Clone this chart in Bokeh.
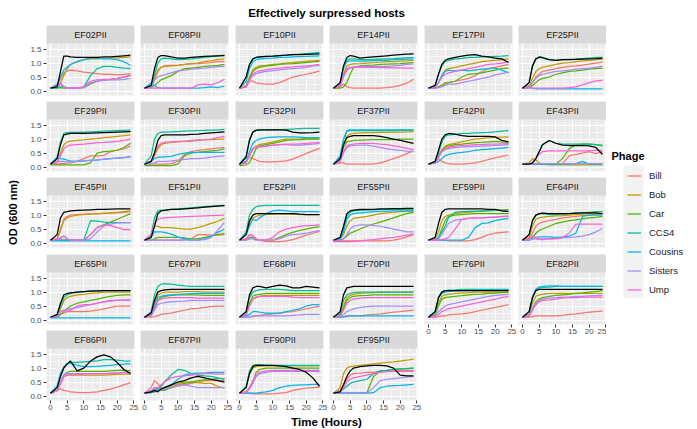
from math import pi
from bokeh.plotting import figure
from bokeh.layouts import row, column
from bokeh.models import (Range1d, FixedTicker, PrintfTickFormatter, BoxAnnotation,
                          Label, Legend, LegendItem, Grid)
from bokeh.embed import file_html
from bokeh.resources import INLINE

FONT = "Liberation Sans"

T = [0, 2, 3, 4, 5, 6, 8, 10, 12, 14, 16, 18, 20, 22, 24]

HOSTS = ["EF02PII", "EF08PII", "EF10PII", "EF14PII", "EF17PII", "EF25PII",
         "EF29PII", "EF30PII", "EF32PII", "EF37PII", "EF42PII", "EF43PII",
         "EF45PII", "EF51PII", "EF52PII", "EF55PII", "EF59PII", "EF64PII",
         "EF65PII", "EF67PII", "EF68PII", "EF70PII", "EF76PII", "EF82PII",
         "EF86PII", "EF87PII", "EF90PII", "EF95PII"]

PHAGES = ["Bill", "Bob", "Car", "CCS4", "Cousins", "Sisters", "Ump"]
COLORS = ["#F8766D", "#C49A00", "#53B400", "#00C094", "#00B6EB", "#A58AFF", "#FB61D7"]

BILL = [
    [.1, .2, .45, .65, .72, .75, .72, .68, .65, .62, .6, .6, .58, .6, .62],
    [.1, .15, .4, .7, .85, .9, .92, .92, .95, .97, .98, 1.0, 1.02, 1.05, 1.05],
    [.1, .15, .35, .35, .3, .27, .25, .25, .3, .4, .5, .55, .6, .65, .72],
    [.1, .15, .25, .15, .12, .1, .1, .1, .1, .1, .12, .15, .2, .28, .42],
    [.1, .1, .15, .2, .25, .3, .35, .4, .45, .55, .7, .8, .85, .9, .95],
    [.1, .15, .3, .5, .6, .7, .75, .8, .85, .88, .9, .93, .96, 1.0, 1.03],
    [.1, .1, .12, .12, .15, .15, .2, .3, .4, .4, .42, .55, .6, .65, .75],
    [.1, .1, .1, .1, .1, .1, .12, .2, .45, .55, .6, .62, .65, .68, .7],
    [.1, .2, .36, .3, .25, .2, .18, .18, .2, .22, .28, .38, .48, .58, .67],
    [.1, .15, .15, .1, .1, .1, .1, .1, .1, .15, .22, .3, .38, .48, .58],
    [.1, .2, .3, .2, .15, .12, .1, .1, .12, .15, .2, .27, .33, .38, .43],
    [.1, .1, .1, .1, .1, .1, .1, .1, .12, .4, .45, .5, .55, .48, .55],
    [.1, .15, .5, .85, .95, 1.0, 1.02, 1.03, 1.04, 1.05, 1.06, 1.07, 1.08, 1.1, 1.12],
    [.1, .1, .1, .1, .1, .1, .1, .1, .12, .15, .3, .3, .28, .28, .3],
    [.1, .15, .3, .25, .15, .1, .05, .05, .05, .08, .12, .2, .28, .35, .42],
    [.08, .08, .08, .08, .08, .08, .08, .08, .08, .08, .08, .1, .15, .22, .3],
    [.1, .1, .1, .1, .1, .08, .08, .08, .08, .12, .2, .3, .35, .38, .4],
    [.1, .15, .35, .6, .7, .75, .8, .85, .9, .93, .95, .98, 1.0, 1.02, 1.05],
    [.1, .12, .2, .25, .3, .3, .3, .3, .32, .35, .4, .45, .5, .5, .5],
    [.1, .1, .12, .15, .2, .22, .25, .3, .35, .4, .42, .45, .48, .5, .5],
    [.1, .1, .1, .12, .15, .17, .2, .22, .25, .28, .3, .35, .4, .45, .5],
    [.1, .1, .1, .12, .15, .15, .15, .18, .2, .22, .25, .28, .3, .33, .35],
    [.1, .1, .12, .15, .15, .18, .2, .22, .25, .3, .35, .4, .45, .5, .55],
    [.1, .1, .12, .15, .15, .15, .15, .15, .17, .2, .22, .25, .28, .3, .32],
    [.1, .2, .25, .2, .18, .15, .13, .12, .13, .15, .2, .25, .32, .4, .48],
    [.1, .3, .55, .45, .3, .25, .3, .35, .4, .45, .5, .55, .55, .55, .55],
    [.1, .1, .1, .08, .08, .08, .08, .08, .1, .12, .2, .25, .28, .3, .32],
    [.1, .2, .4, .6, .75, .8, .82, .85, .85, .88, .9, .9, .92, .92, .92],
]

BOB = [
    [.1, .15, .3, .55, .8, .95, 1.05, 1.12, 1.15, 1.15, 1.17, 1.18, 1.19, 1.2, 1.22],
    [.1, .15, .5, .75, .85, .88, .9, .92, .95, .98, 1.0, 1.05, 1.08, 1.12, 1.15],
    [.1, .2, .5, .75, .85, .9, .92, .95, .97, 1.0, 1.02, 1.04, 1.06, 1.08, 1.1],
    [.1, .2, .6, .9, .95, .97, .98, 1.0, 1.02, 1.03, 1.05, 1.05, 1.07, 1.08, 1.1],
    [.1, .15, .3, .55, .75, .8, .85, .9, .95, 1.0, 1.05, 1.08, 1.1, 1.12, 1.15],
    [.1, .2, .45, .7, .8, .85, .9, .95, 1.0, 1.02, 1.05, 1.08, 1.1, 1.12, 1.14],
    [.1, .2, .5, .8, .9, .93, .95, .97, 1.0, 1.02, 1.05, 1.07, 1.1, 1.12, 1.15],
    [.1, .2, .4, .65, .8, .85, .88, .9, .92, .93, .95, .97, .98, 1.0, 1.0],
    [.1, .2, .4, .65, .75, .8, .85, .9, .95, 1.0, 1.0, 1.0, 1.02, 1.02, 1.02],
    [.1, .3, .8, 1.1, 1.18, 1.2, 1.22, 1.23, 1.23, 1.24, 1.24, 1.25, 1.25, 1.26, 1.27],
    [.1, .15, .35, .6, .75, .8, .85, .9, .95, 1.0, 1.02, 1.05, 1.06, 1.07, 1.08],
    [.1, .15, .3, .25, .15, .1, .08, .08, .08, .08, .08, .08, .08, .08, .08],
    [.1, .15, .45, .8, .9, .95, 1.0, 1.02, 1.03, 1.04, 1.06, 1.08, 1.1, 1.12, 1.15],
    [.1, .3, .6, .6, .55, .55, .55, .52, .5, .5, .55, .62, .7, .78, .88],
    [.1, .3, .7, .9, .95, 1.0, 1.02, 1.03, 1.04, 1.03, 1.03, 1.02, 1.02, 1.02, 1.02],
    [.1, .15, .3, .6, .8, .88, .92, .95, 1.0, 1.05, 1.08, 1.1, 1.12, 1.13, 1.14],
    [.1, .15, .4, .8, .95, 1.0, 1.05, 1.08, 1.1, 1.12, 1.13, 1.15, 1.17, 1.18, 1.2],
    [.1, .2, .6, .85, .9, .93, .95, .97, .98, 1.0, 1.02, 1.03, 1.05, 1.05, 1.05],
    [.1, .15, .4, .7, .8, .85, .9, .92, .95, .97, 1.0, 1.0, 1.0, 1.0, 1.0],
    [.1, .2, .6, .9, .95, 1.0, 1.0, 1.0, 1.02, 1.02, 1.02, 1.0, 1.0, 1.0, 1.0],
    [.1, .2, .5, .75, .8, .85, .88, .88, .88, .88, .88, .88, .88, .88, .88],
    [.1, .2, .5, .8, .88, .92, .95, .97, .98, 1.0, 1.0, 1.0, 1.0, 1.0, 1.0],
    [.1, .2, .6, .85, .9, .92, .95, .97, .98, 1.0, 1.0, 1.0, 1.0, 1.0, 1.0],
    [.1, .2, .6, .85, .9, .92, .95, .95, .95, .95, .95, .95, .95, .95, .95],
    [.1, .2, .45, .7, .75, .75, .75, .75, .75, .75, .75, .76, .77, .78, .78],
    [.1, .12, .15, .2, .25, .3, .35, .45, .5, .5, .48, .45, .45, .35, .28],
    [.1, .3, .8, 1.0, 1.05, 1.07, 1.08, 1.08, 1.08, 1.08, 1.08, 1.08, 1.08, 1.08, 1.08],
    [.1, .3, .8, 1.0, 1.05, 1.07, 1.1, 1.12, 1.15, 1.18, 1.2, 1.22, 1.25, 1.28, 1.32],
]

CAR = [
    [.1, .1, .12, .1, .1, .1, .1, .12, .25, .35, .4, .42, .45, .5, .55],
    [.1, .12, .2, .3, .4, .45, .55, .7, .8, .82, .85, .88, .9, .92, .95],
    [.1, .15, .45, .7, .8, .85, .9, .92, .95, .97, .98, 1.0, 1.02, 1.04, 1.06],
    [.1, .1, .15, .3, .6, .85, .9, .92, .93, .95, .96, .97, .98, 1.0, 1.02],
    [.1, .1, .15, .2, .3, .3, .35, .5, .6, .62, .65, .7, .75, .8, .82],
    [.1, .12, .2, .3, .4, .45, .5, .6, .65, .7, .72, .75, .78, .8, .82],
    [.08, .08, .08, .08, .08, .08, .08, .08, .15, .5, .55, .57, .6, .7, .85],
    [.05, .05, .05, .05, .05, .05, .05, .1, .4, .5, .52, .55, .58, .6, .65],
    [.05, .08, .15, .4, .65, .75, .8, .85, .9, .95, .97, .98, 1.0, 1.0, 1.0],
    [.1, .25, .7, .9, .93, .95, .96, .97, .98, .98, .98, .98, 1.0, 1.0, 1.0],
    [.1, .15, .4, .6, .7, .75, .8, .82, .85, .87, .88, .9, .92, .9, .88],
    [.1, .1, .1, .1, .1, .1, .1, .1, .3, .65, .8, .82, .82, .8, .78],
    [.1, .1, .1, .1, .1, .1, .1, .1, .3, .55, .65, .75, .85, .95, 1.05],
    [.1, .1, .15, .2, .2, .2, .2, .2, .18, .15, .15, .2, .25, .3, .35],
    [.1, .1, .2, .2, .12, .1, .1, .1, .2, .3, .38, .45, .5, .55, .58],
    [.1, .1, .15, .25, .35, .4, .5, .6, .68, .75, .82, .9, .98, 1.05, 1.1],
    [.1, .1, .2, .5, .8, .95, 1.0, 1.02, 1.03, 1.05, 1.05, 1.05, 1.05, 1.05, 1.05],
    [.1, .1, .2, .35, .45, .5, .6, .7, .75, .8, .83, .86, .9, .92, .95],
    [.1, .1, .2, .3, .4, .5, .6, .65, .7, .75, .8, .85, .88, .9, .9],
    [.1, .15, .4, .7, .8, .85, .88, .9, .9, .9, .9, .88, .88, .88, .88],
    [.1, .2, .6, .85, .9, .92, .95, .95, .95, .95, .95, .95, .95, .95, .95],
    [.1, .15, .4, .7, .8, .85, .87, .88, .9, .9, .9, .9, .9, .9, .9],
    [.1, .2, .5, .75, .8, .82, .85, .87, .9, .92, .93, .95, .96, .98, 1.0],
    [.1, .15, .4, .65, .75, .8, .85, .88, .9, .92, .95, .97, 1.0, 1.02, 1.05],
    [.1, .2, .5, .75, .85, .88, .88, .88, .88, .88, .88, .9, .92, .93, .9],
    [.1, .15, .3, .25, .2, .2, .3, .4, .45, .5, .55, .58, .6, .62, .62],
    [.1, .15, .3, .5, .85, .95, 1.0, 1.0, 1.0, 1.0, 1.0, 1.0, 1.0, 1.0, 1.0],
    [.1, .1, .1, .1, .1, .1, .1, .12, .7, .9, .92, .95, .97, .98, 1.0],
]

CCS4 = [
    [.1, .12, .15, .15, .12, .1, .1, .15, .55, .8, .88, .88, .85, .82, .8],
    [.1, .15, .6, 1.0, 1.15, 1.18, 1.15, 1.12, 1.13, 1.15, 1.18, 1.2, 1.23, 1.26, 1.28],
    [.1, .5, .95, 1.15, 1.2, 1.22, 1.24, 1.25, 1.27, 1.28, 1.3, 1.32, 1.34, 1.36, 1.38],
    [.1, .25, .8, 1.1, 1.15, 1.15, 1.12, 1.12, 1.13, 1.14, 1.15, 1.16, 1.18, 1.19, 1.2],
    [.1, .2, .6, .9, 1.05, 1.1, 1.15, 1.17, 1.2, 1.2, 1.22, 1.22, 1.24, 1.25, 1.27],
    [.1, .3, .9, 1.15, 1.2, 1.18, 1.12, 1.1, 1.12, 1.13, 1.14, 1.16, 1.18, 1.2, 1.2],
    [.1, .35, .9, 1.2, 1.23, 1.24, 1.24, 1.25, 1.26, 1.27, 1.28, 1.29, 1.3, 1.31, 1.32],
    [.1, .4, 1.0, 1.2, 1.25, 1.25, 1.26, 1.27, 1.28, 1.29, 1.3, 1.31, 1.32, 1.33, 1.35],
    [.1, .4, 1.0, 1.25, 1.3, 1.32, 1.33, 1.33, 1.34, 1.35, 1.36, 1.37, 1.38, 1.38, 1.38],
    [.1, .35, .95, 1.28, 1.3, 1.3, 1.3, 1.3, 1.3, 1.3, 1.3, 1.3, 1.31, 1.32, 1.32],
    [.1, .2, .5, .9, 1.1, 1.15, 1.17, 1.2, 1.2, 1.22, 1.23, 1.24, 1.26, 1.28, 1.3],
    [.1, .1, .15, .3, .55, .8, .95, .85, .82, .82, .82, .82, .82, .8, .75],
    [.1, .1, .1, .1, .1, .1, .1, .12, .8, .78, .75, .73, .73, .73, .73],
    [.1, .3, .9, 1.15, 1.18, 1.18, 1.2, 1.22, 1.24, 1.26, 1.28, 1.3, 1.32, 1.34, 1.35],
    [.1, .4, 1.0, 1.2, 1.3, 1.33, 1.35, 1.35, 1.35, 1.35, 1.35, 1.35, 1.35, 1.35, 1.35],
    [.1, .15, .5, .95, 1.1, 1.15, 1.17, 1.18, 1.19, 1.2, 1.2, 1.2, 1.2, 1.2, 1.2],
    [.1, .1, .2, .4, .6, .9, 1.1, 1.12, 1.13, 1.14, 1.15, 1.16, 1.17, 1.18, 1.18],
    [.1, .3, .8, 1.0, 1.03, 1.05, 1.02, 1.02, 1.03, 1.05, 1.07, 1.08, 1.1, 1.12, 1.12],
    [.1, .15, .5, .8, .9, .95, 1.0, 1.02, 1.03, 1.04, 1.05, 1.05, 1.05, 1.05, 1.05],
    [.1, .3, .9, 1.2, 1.28, 1.3, 1.28, 1.25, 1.22, 1.2, 1.2, 1.2, 1.2, 1.2, 1.2],
    [.1, .3, .8, 1.0, 1.05, 1.08, 1.1, 1.1, 1.1, 1.08, 1.05, 1.05, 1.05, 1.05, 1.05],
    [.1, .25, .7, .9, .95, .98, 1.0, 1.0, 1.0, 1.0, 1.0, 1.0, 1.0, 1.0, 1.0],
    [.1, .3, .8, 1.0, 1.05, 1.07, 1.08, 1.1, 1.1, 1.1, 1.1, 1.1, 1.1, 1.1, 1.1],
    [.1, .3, .8, 1.1, 1.15, 1.17, 1.18, 1.2, 1.2, 1.2, 1.2, 1.2, 1.2, 1.2, 1.2],
    [.1, .35, .8, 1.05, 1.15, 1.2, 1.2, 1.22, 1.24, 1.26, 1.3, 1.3, 1.28, 1.26, 1.25],
    [.1, .15, .2, .25, .35, .5, .75, .95, .92, .8, .75, .72, .7, .65, .6],
    [.1, .35, .9, 1.1, 1.12, 1.12, 1.1, 1.1, 1.1, 1.1, 1.1, 1.1, 1.1, 1.1, 1.1],
    [.1, .15, .25, .35, .45, .5, .55, .6, .8, .9, .92, .95, .97, .98, 1.0],
]

COUSINS = [
    [.1, .25, .5, .75, .85, .95, 1.05, 1.12, 1.18, 1.18, 1.15, 1.15, 1.12, 1.05, .92],
    [.1, .3, .2, .12, .1, .1, .1, .1, .1, .1, .1, .12, .15, .12, .18],
    [.1, .35, .8, 1.05, 1.12, 1.15, 1.17, 1.18, 1.2, 1.2, 1.22, 1.23, 1.24, 1.25, 1.26],
    [.1, .3, .85, 1.05, 1.08, 1.08, 1.07, 1.08, 1.09, 1.1, 1.1, 1.12, 1.12, 1.14, 1.15],
    [.1, .15, .3, .55, .7, .75, .72, .75, .72, .75, .78, .8, .82, .75, .65],
    [.1, .12, .1, .08, .08, .08, .08, .08, .08, .08, .08, .08, .08, .08, .08],
    [.1, .35, .3, .28, .25, .22, .2, .22, .24, .25, .27, .3, .32, .34, .37],
    [.1, .2, .3, .35, .35, .36, .38, .45, .5, .52, .52, .52, .52, .52, .52],
    [.1, .2, .55, .85, .95, 1.0, 1.05, 1.07, 1.08, 1.08, 1.08, 1.07, 1.05, 1.05, 1.05],
    [.1, .4, 1.0, 1.3, 1.33, 1.33, 1.33, 1.33, 1.33, 1.33, 1.33, 1.33, 1.33, 1.33, 1.33],
    [.1, .15, .2, .3, .4, .45, .5, .52, .55, .6, .62, .64, .66, .68, .7],
    [.1, .1, .1, .1, .1, .1, .1, .1, .1, .1, .12, .2, .1, .1, .1],
    [.08, .08, .08, .08, .08, .08, .08, .08, .08, .08, .08, .08, .08, .08, .08],
    [.1, .2, .4, .4, .4, .38, .32, .22, .15, .1, .1, .15, .25, .38, .5],
    [.1, .3, .6, .85, .8, .9, 1.05, 1.15, 1.18, 1.15, 1.12, 1.12, 1.12, 1.12, 1.12],
    [.1, .15, .4, .85, 1.0, 1.05, 1.08, 1.1, 1.12, 1.13, 1.14, 1.15, 1.15, 1.15, 1.15],
    [.1, .1, .1, .1, .1, .1, .1, .1, .2, .55, .7, .72, .8, .85, .88],
    [.1, .1, .15, .2, .22, .22, .22, .2, .22, .25, .35, .95, 1.0, 1.0, 1.0],
    [.08, .08, .08, .08, .08, .08, .08, .08, .08, .08, .08, .08, .08, .08, .08],
    [.1, .2, .5, .8, .85, .88, .9, .92, .93, .94, .95, .95, .95, .95, .95],
    [.1, .15, .2, .3, .3, .28, .25, .25, .25, .3, .35, .4, .5, .55, .55],
    [.1, .1, .12, .15, .15, .15, .15, .15, .15, .15, .15, .15, .15, .15, .15],
    [.1, .3, .8, .95, 1.0, 1.02, 1.04, 1.05, 1.06, 1.07, 1.08, 1.08, 1.08, 1.08, 1.08],
    [.1, .3, .85, 1.1, 1.18, 1.2, 1.22, 1.22, 1.2, 1.2, 1.2, 1.2, 1.2, 1.2, 1.2],
    [.1, .35, .8, 1.05, 1.15, 1.18, 1.1, 1.05, 1.05, 1.06, 1.08, 1.1, 1.12, 1.14, 1.15],
    [.1, .12, .15, .2, .25, .3, .4, .6, .75, .8, .82, .82, .85, .85, .85],
    [.1, .1, .1, .1, .1, .12, .15, .2, .3, .35, .38, .4, .4, .42, .42],
    [.1, .1, .1, .1, .1, .1, .1, .1, .12, .3, .35, .37, .38, .4, .42],
]

SISTERS = [
    [.1, .15, .3, .15, .1, .1, .1, .12, .3, .35, .38, .4, .4, .42, .45],
    [.1, .15, .4, .5, .55, .58, .65, .72, .75, .78, .8, .82, .85, .87, .88],
    [.1, .15, .4, .55, .62, .66, .7, .73, .76, .78, .8, .82, .85, .9, .92],
    [.1, .2, .5, .75, .82, .85, .88, .88, .88, .88, .88, .9, .92, .95, .97],
    [.1, .1, .12, .15, .2, .25, .25, .3, .35, .4, .45, .5, .58, .62, .68],
    [.1, .15, .3, .45, .55, .6, .65, .7, .72, .75, .78, .8, .82, .85, .88],
    [.1, .2, .2, .2, .18, .18, .2, .22, .24, .26, .28, .3, .32, .34, .35],
    [.1, .12, .15, .2, .2, .2, .22, .25, .27, .3, .3, .32, .35, .38, .4],
    [.1, .15, .45, .65, .7, .72, .75, .78, .8, .8, .78, .78, .8, .82, .85],
    [.1, .2, .5, .7, .75, .77, .78, .78, .75, .7, .65, .62, .6, .57, .55],
    [.1, .15, .35, .55, .62, .66, .7, .72, .73, .74, .75, .76, .77, .78, .8],
    [.1, .1, .1, .12, .12, .12, .12, .12, .12, .12, .12, .12, .12, .12, .12],
    [.1, .12, .2, .25, .15, .1, .1, .1, .15, .4, .6, .68, .72, .73, .73],
    [.1, .1, .1, .1, .1, .1, .1, .1, .1, .1, .1, .12, .2, .45, .75],
    [.1, .1, .15, .15, .1, .1, .1, .1, .15, .25, .3, .32, .35, .4, .45],
    [.1, .1, .15, .3, .5, .6, .65, .65, .63, .6, .55, .5, .45, .4, .4],
    [.1, .1, .15, .3, .5, .7, .82, .85, .88, .9, .9, .92, .93, .94, .95],
    [.1, .1, .15, .15, .12, .12, .15, .17, .18, .2, .22, .25, .3, .4, .52],
    [.1, .12, .3, .35, .35, .4, .45, .5, .55, .6, .65, .68, .7, .7, .7],
    [.1, .15, .35, .55, .6, .62, .65, .67, .68, .7, .7, .7, .7, .7, .7],
    [.1, .1, .12, .15, .15, .15, .15, .15, .15, .15, .17, .18, .2, .2, .2],
    [.1, .12, .2, .3, .35, .4, .45, .48, .5, .5, .5, .5, .5, .5, .5],
    [.1, .15, .3, .4, .5, .55, .6, .65, .7, .75, .8, .85, .88, .9, .92],
    [.1, .15, .4, .6, .7, .75, .78, .8, .82, .83, .85, .85, .86, .87, .88],
    [.1, .2, .5, .75, .8, .8, .8, .8, .8, .8, .8, .82, .83, .84, .85],
    [.1, .2, .3, .3, .25, .25, .3, .4, .4, .35, .3, .3, .3, .3, .3],
    [.1, .12, .25, .45, .7, .8, .85, .88, .88, .88, .88, .88, .88, .88, .87],
    [.1, .1, .1, .1, .1, .1, .1, .1, .3, .55, .6, .62, .65, .68, .7],
]

UMP = [
    [.1, .15, .25, .15, .1, .1, .1, .15, .35, .4, .42, .42, .45, .5, .58],
    [.1, .1, .1, .1, .1, .1, .1, .1, .1, .1, .22, .25, .22, .3, .42],
    [.1, .15, .4, .6, .68, .72, .76, .8, .82, .85, .86, .88, .9, .92, .95],
    [.1, .2, .55, .8, .85, .86, .85, .85, .85, .84, .84, .83, .83, .82, .82],
    [.1, .15, .3, .5, .6, .65, .7, .75, .8, .85, .9, .95, .97, 1.0, 1.05],
    [.1, .12, .1, .1, .1, .1, .1, .1, .1, .12, .15, .22, .3, .36, .38],
    [.1, .15, .4, .65, .75, .78, .8, .82, .85, .87, .88, .9, .92, .95, 1.0],
    [.1, .2, .5, .75, .85, .88, .9, .92, .93, .95, .97, .98, 1.0, 1.05, 1.1],
    [.1, .15, .4, .65, .7, .72, .75, .78, .8, .82, .82, .83, .85, .86, .87],
    [.1, .2, .55, .75, .8, .82, .85, .85, .85, .82, .8, .76, .72, .67, .62],
    [.1, .15, .35, .55, .65, .7, .75, .77, .78, .8, .8, .82, .82, .83, .84],
    [.1, .1, .15, .3, .45, .55, .58, .58, .58, .58, .58, .58, .58, .6, .6],
    [.1, .15, .15, .25, .15, .1, .1, .1, .3, .55, .65, .62, .55, .48, .48],
    [.1, .3, .7, .85, .88, .9, .92, .93, .94, .95, .96, .97, .98, .99, 1.0],
    [.1, .15, .3, .25, .15, .1, .1, .2, .4, .5, .55, .6, .62, .63, .65],
    [.05, .05, .05, .05, .05, .06, .08, .1, .12, .15, .18, .2, .24, .28, .33],
    [.1, .1, .1, .12, .15, .2, .5, .85, .88, .9, .9, .92, .93, .95, .96],
    [.1, .15, .25, .2, .15, .15, .15, .15, .2, .35, .68, .68, .68, .68, .68],
    [.1, .15, .3, .35, .3, .35, .5, .55, .55, .6, .65, .7, .7, .72, .72],
    [.1, .2, .45, .7, .75, .78, .8, .8, .8, .8, .78, .78, .78, .78, .78],
    [.1, .2, .5, .75, .82, .85, .85, .85, .85, .85, .82, .8, .8, .8, .8],
    [.1, .15, .35, .6, .7, .75, .78, .8, .8, .8, .8, .8, .8, .8, .8],
    [.1, .1, .2, .3, .35, .4, .45, .5, .55, .6, .65, .7, .75, .8, .85],
    [.1, .15, .35, .55, .65, .7, .72, .75, .78, .8, .8, .82, .82, .82, .82],
    [.1, .2, .45, .7, .75, .76, .77, .78, .8, .8, .8, .8, .82, .85, .85],
    [.1, .15, .25, .3, .4, .5, .65, .7, .72, .75, .78, .8, .8, .78, .78],
    [.1, .15, .3, .55, .75, .85, .9, .92, .92, .92, .92, .92, .92, .92, .92],
    [.1, .15, .3, .5, .6, .65, .7, .75, .8, .85, .87, .88, .88, .88, .88],
]

CONTROL = [
    [.1, .15, .7, 1.25, 1.25, 1.22, 1.2, 1.2, 1.2, 1.2, 1.22, 1.22, 1.24, 1.26, 1.28],
    [.1, .2, .8, 1.2, 1.27, 1.27, 1.22, 1.18, 1.18, 1.2, 1.22, 1.24, 1.25, 1.26, 1.27],
    [.1, .5, .95, 1.15, 1.2, 1.22, 1.24, 1.25, 1.27, 1.28, 1.3, 1.3, 1.31, 1.32, 1.33],
    [.1, .3, .9, 1.2, 1.27, 1.25, 1.18, 1.2, 1.22, 1.24, 1.26, 1.28, 1.3, 1.32, 1.33],
    [.1, .2, .6, .95, 1.1, 1.15, 1.2, 1.25, 1.28, 1.3, 1.25, 1.22, 1.18, 1.15, 1.02],
    [.1, .3, .9, 1.15, 1.22, 1.2, 1.12, 1.1, 1.12, 1.12, 1.13, 1.14, 1.15, 1.16, 1.18],
    [.1, .3, .8, 1.15, 1.18, 1.2, 1.2, 1.2, 1.21, 1.22, 1.23, 1.24, 1.25, 1.26, 1.27],
    [.1, .2, .5, .95, 1.12, 1.15, 1.15, 1.15, 1.15, 1.17, 1.18, 1.2, 1.22, 1.24, 1.26],
    [.1, .35, .95, 1.25, 1.32, 1.33, 1.33, 1.33, 1.33, 1.32, 1.25, 1.22, 1.22, 1.23, 1.25],
    [.1, .3, .8, 1.05, 1.1, 1.12, 1.12, 1.12, 1.12, 1.1, 1.05, 1.0, .95, .9, .85],
    [.1, .2, .6, 1.0, 1.15, 1.2, 1.18, 1.12, 1.1, 1.1, 1.1, 1.1, 1.08, .95, .9],
    [.1, .1, .15, .3, .55, .8, .95, .85, .78, .77, .77, .77, .76, .7, .45],
    [.1, .3, .9, 1.1, 1.12, 1.15, 1.17, 1.18, 1.19, 1.2, 1.2, 1.21, 1.22, 1.22, 1.22],
    [.1, .2, .6, 1.05, 1.15, 1.17, 1.2, 1.2, 1.22, 1.24, 1.26, 1.28, 1.3, 1.32, 1.34],
    [.1, .3, .8, 1.0, 1.05, 1.05, 1.05, 1.05, 1.05, 1.05, 1.05, 1.03, 1.02, 1.02, 1.02],
    [.1, .2, .6, 1.05, 1.15, 1.18, 1.2, 1.2, 1.2, 1.22, 1.22, 1.23, 1.23, 1.24, 1.24],
    [.1, .2, .7, 1.1, 1.2, 1.22, 1.22, 1.22, 1.22, 1.22, 1.22, 1.2, 1.2, 1.15, 1.12],
    [.1, .3, .8, 1.0, 1.05, 1.07, 1.05, 1.05, 1.05, 1.05, 1.07, 1.08, 1.08, 1.08, 1.05],
    [.1, .2, .6, .9, .95, .97, 1.0, 1.02, 1.03, 1.04, 1.05, 1.05, 1.05, 1.05, 1.05],
    [.1, .25, .7, 1.0, 1.05, 1.08, 1.1, 1.1, 1.1, 1.1, 1.1, 1.1, 1.1, 1.1, 1.1],
    [.1, .3, .9, 1.15, 1.2, 1.2, 1.15, 1.2, 1.25, 1.22, 1.15, 1.15, 1.2, 1.18, 1.15],
    [.1, .3, .9, 1.15, 1.18, 1.2, 1.2, 1.2, 1.2, 1.2, 1.2, 1.2, 1.2, 1.2, 1.2],
    [.1, .3, .8, 1.0, 1.05, 1.05, 1.05, 1.05, 1.05, 1.05, 1.05, 1.05, 1.05, 1.05, 1.05],
    [.1, .3, .8, 1.05, 1.1, 1.1, 1.1, 1.1, 1.1, 1.1, 1.1, 1.1, 1.1, 1.1, 1.1],
    [.1, .3, .7, 1.0, 1.15, 1.25, .9, 1.0, 1.25, 1.4, 1.47, 1.4, 1.2, .95, .8],
    [.1, .15, .2, .15, .25, .3, .4, .5, .55, .65, .7, .65, .6, .55, .5],
    [.1, .3, .8, 1.05, 1.1, 1.1, 1.1, 1.1, 1.08, 1.05, 1.0, .95, .85, .65, .35],
    [.1, .15, .4, .7, .9, 1.0, 1.05, 1.08, 1.1, 1.1, 1.08, 1.0, .75, .72, .72],
]

SERIES = [BILL, BOB, CAR, CCS4, COUSINS, SISTERS, UMP]

X_TICKS = [0, 5, 10, 15, 20, 25]
X_MINOR = [2.5, 7.5, 12.5, 17.5, 22.5]
Y_TICKS = [0, 0.5, 1.0, 1.5]
Y_MINOR = [0.25, 0.75, 1.25]

X0, X1 = -1.2, 25.2
Y0, Y1 = -0.16, 1.70
STRIP_PX, PLOT_PX = 18, 52
YTOP = Y1 + (Y1 - Y0) * STRIP_PX / PLOT_PX
FRAME_W = 88
NCOL = 6
RIGHT_GAPS = [6, 7, 6, 7, 6, 0]
ROW_GAPS = [6, 6, 7, 6]
AXIS_PX = 14
LEFT_PX = 22
TITLE_H = 25
XLAB_H = 15
YLAB_W = 24
TOTAL_W = 697


def panel(i, col, r, is_bottom):
    left = LEFT_PX if col == 0 else 0
    right = RIGHT_GAPS[col]
    bottom = AXIS_PX if is_bottom else ROW_GAPS[r]
    p = figure(width=left + FRAME_W + right, height=STRIP_PX + PLOT_PX + bottom,
               x_range=Range1d(X0, X1), y_range=Range1d(Y0, YTOP),
               toolbar_location=None, output_backend="svg",
               min_border_left=left, min_border_right=right,
               min_border_top=0, min_border_bottom=bottom,
               x_axis_location="below" if is_bottom else None,
               y_axis_location="left" if col == 0 else None,
               background_fill_color="#EBEBEB", border_fill_color="white",
               outline_line_color=None)
    for g in list(p.center):
        if isinstance(g, Grid):
            g.visible = False
    p.add_layout(Grid(dimension=0, ticker=FixedTicker(ticks=X_TICKS, minor_ticks=X_MINOR),
                      grid_line_color="white", grid_line_width=1.1,
                      minor_grid_line_color="white", minor_grid_line_width=0.55))
    p.add_layout(Grid(dimension=1, ticker=FixedTicker(ticks=Y_TICKS, minor_ticks=Y_MINOR),
                      grid_line_color="white", grid_line_width=1.1,
                      minor_grid_line_color="white", minor_grid_line_width=0.55))
    for k, ser in enumerate(SERIES):
        p.line(T, ser[i], line_color=COLORS[k], line_width=1.25)
    p.line(T, CONTROL[i], line_color="black", line_width=1.25)
    p.add_layout(BoxAnnotation(bottom=Y1, fill_color="#D9D9D9", fill_alpha=1.0,
                               line_color=None))
    p.add_layout(Label(x=(X0 + X1) / 2, y=(Y1 + YTOP) / 2, text=HOSTS[i],
                       text_align="center", text_baseline="middle",
                       text_font=FONT, text_font_size="9px", text_color="#1A1A1A"))
    for ax in p.xaxis:
        ax.ticker = FixedTicker(ticks=X_TICKS)
        ax.axis_line_color = None
        ax.major_tick_in = 0
        ax.major_tick_out = 3
        ax.minor_tick_out = 0
        ax.minor_tick_in = 0
        ax.major_tick_line_color = "#333333"
        ax.major_label_standoff = 1
        ax.major_label_text_font = FONT
        ax.major_label_text_font_size = "8px"
        ax.major_label_text_color = "#4D4D4D"
    for ax in p.yaxis:
        ax.ticker = FixedTicker(ticks=Y_TICKS)
        ax.formatter = PrintfTickFormatter(format="%.1f")
        ax.axis_line_color = None
        ax.major_tick_in = 0
        ax.major_tick_out = 3
        ax.minor_tick_out = 0
        ax.minor_tick_in = 0
        ax.major_tick_line_color = "#333333"
        ax.major_label_standoff = 2
        ax.major_label_text_font = FONT
        ax.major_label_text_font_size = "8px"
        ax.major_label_text_color = "#4D4D4D"
    return p


def blank(w, h):
    p = figure(width=w, height=h, x_range=Range1d(0, w), y_range=Range1d(0, h),
               toolbar_location=None, output_backend="svg",
               min_border_left=0, min_border_right=0, min_border_top=0, min_border_bottom=0,
               x_axis_location=None, y_axis_location=None,
               background_fill_color="white", border_fill_color="white",
               outline_line_color=None)
    for g in list(p.center):
        if isinstance(g, Grid):
            g.visible = False
    return p


n = len(HOSTS)
stacks = []
for c in range(NCOL):
    rows_here = [r for r in range(5) if r * NCOL + c < n]
    figs = [panel(r * NCOL + c, c, r, r == rows_here[-1]) for r in rows_here]
    stacks.append(column(*figs))

STACK_H = 4 * (STRIP_PX + PLOT_PX) + sum(ROW_GAPS) + STRIP_PX + PLOT_PX + AXIS_PX
LEG_W = TOTAL_W - YLAB_W - (LEFT_PX + 6 * FRAME_W + sum(RIGHT_GAPS))

# y label (page y center ~212)
ylab = blank(YLAB_W, STACK_H)
ylab.add_layout(Label(x=12, y=STACK_H - (212 - TITLE_H), text="OD (600 nm)", angle=pi / 2,
                      text_align="center", text_baseline="middle",
                      text_font=FONT, text_font_style="bold", text_font_size="11px",
                      text_color="black"))

# legend
leg = blank(LEG_W, STACK_H)
leg.add_layout(BoxAnnotation(left=17, right=37, top=STACK_H - (165 - TITLE_H),
                             bottom=STACK_H - (298 - TITLE_H),
                             fill_color="#F2F2F2", fill_alpha=1.0, line_color=None,
                             level="underlay"))
items = []
for k, name in enumerate(PHAGES):
    r = leg.line(x=[float("nan")], y=[float("nan")], line_color=COLORS[k], line_width=1.3)
    items.append(LegendItem(label=name, renderers=[r]))
legend = Legend(items=items, location=(21, STACK_H - (297.5 - TITLE_H)), padding=0, margin=0,
                spacing=2, glyph_width=14, glyph_height=17, label_height=17,
                label_standoff=8, label_text_font=FONT, label_text_font_size="9.5px",
                label_text_color="#1A1A1A", border_line_color=None,
                background_fill_alpha=0.0)
leg.add_layout(legend)
leg.add_layout(Label(x=5, y=STACK_H - (155 - TITLE_H), text="Phage", text_align="left",
                     text_baseline="middle", text_font=FONT, text_font_style="bold",
                     text_font_size="11px", text_color="black"))

# title
title = blank(TOTAL_W, TITLE_H)
title.add_layout(Label(x=326, y=TITLE_H - 12.5, text="Effectively surpressed hosts",
                       text_align="center", text_baseline="middle", text_font=FONT,
                       text_font_style="bold", text_font_size="11.5px", text_color="black"))

# x label
xlab = blank(TOTAL_W, XLAB_H)
xlab.add_layout(Label(x=326, y=XLAB_H - 7, text="Time (Hours)", text_align="center",
                      text_baseline="middle", text_font=FONT, text_font_style="bold",
                      text_font_size="11.5px", text_color="black"))

layout = column(title, row(ylab, *stacks, leg), xlab)

open("out.html", "w").write(file_html(layout, INLINE))
